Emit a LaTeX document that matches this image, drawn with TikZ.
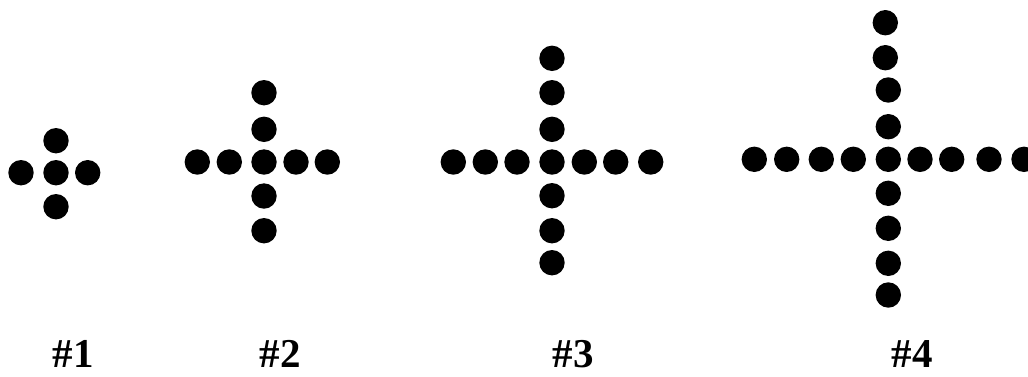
\documentclass[tikz,border=0pt]{standalone}
\usepackage{fontspec}
\setmainfont{Liberation Serif}
\tikzset{
  dot/.style={circle,fill=black,draw=none,minimum size=25.4pt,inner sep=0pt},
  lbl/.style={font=\fontsize{41}{41}\selectfont\bfseries,inner sep=0pt,anchor=base}
}
\begin{document}
\begin{tikzpicture}[x=1pt,y=-1pt]
\useasboundingbox (0,0) rectangle (1028,376);
% Figure 1
\foreach \x/\y [count=\i] in {56/140.7, 21/172.7, 56/172.7, 87.7/172.7, 56/206.7}
  \node[dot] (a\i) at (\x,\y) {};
% Figure 2
\foreach \x/\y [count=\i] in {264/92.7, 264/129.3, 197.3/162, 229.3/162, 264/162, 296/162, 327.3/162, 264/196, 264/230.7}
  \node[dot] (b\i) at (\x,\y) {};
% Figure 3
\foreach \x/\y [count=\i] in {552/58.3, 552/92.7, 552/129.3, 453.3/162, 485.3/162, 517/162, 552/162, 584.3/162, 615.7/162, 650.7/162, 552/195.7, 552/230.7, 552/262.7}
  \node[dot] (c\i) at (\x,\y) {};
% Figure 4
\foreach \x/\y [count=\i] in {885.3/22.7, 885.3/57.7, 888.3/90, 888.3/126.7, 754.3/159.3, 786.7/159.3, 821.3/159.3, 853.3/159.3, 888.3/159.3, 920/159.3, 951.7/159.3, 989/159.3, 1024/159.3, 888.3/193.3, 888.3/228.3, 888.3/263.3, 888.3/295}
  \node[dot] (d\i) at (\x,\y) {};
% Labels
\node[lbl] (l1) at (73,367) {\#1};
\node[lbl] (l2) at (280,367) {\#2};
\node[lbl] (l3) at (573,367) {\#3};
\node[lbl] (l4) at (912,367) {\#4};
\end{tikzpicture}
\end{document}
